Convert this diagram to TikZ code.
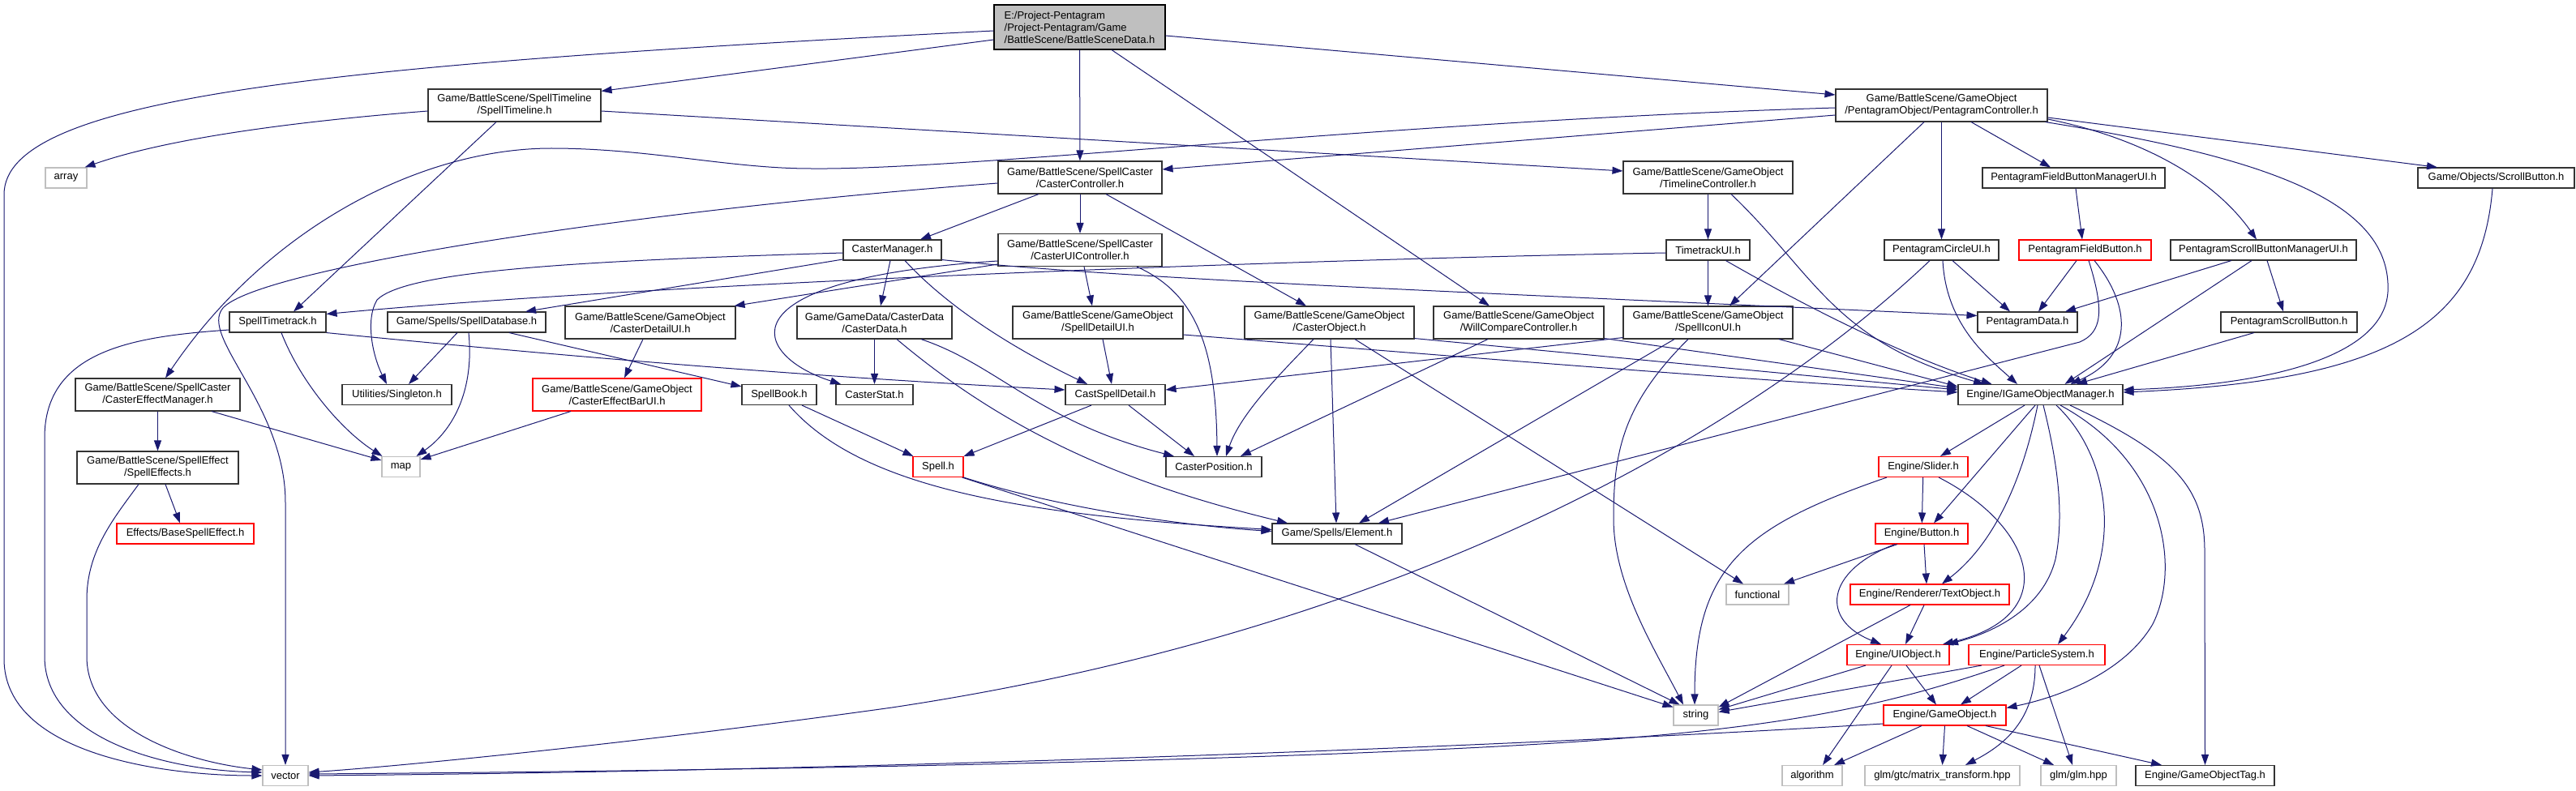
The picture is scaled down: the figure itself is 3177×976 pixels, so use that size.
\documentclass[tikz,border=0pt]{standalone}
\usepackage{fontspec}
\setmainfont{Liberation Sans}
\usetikzlibrary{arrows.meta,calc}
\definecolor{edgeblue}{HTML}{191970}
\definecolor{greyx}{HTML}{BFBFBF}
\newcommand\dgfont{\fontsize{13}{15}\selectfont}
\tikzset{
 nd/.style={draw=black!80, line width=1.1pt, fill=white, inner sep=0pt, align=center, font=\dgfont, minimum height=25pt},
 two/.style={minimum height=40pt},
 rd/.style={nd, draw=red},
 gx/.style={nd, draw=greyx},
 dep/.style={draw=edgeblue, line width=1pt, -{Triangle[length=13pt,width=9pt]}},
}
\begin{document}
\begin{tikzpicture}[x=1pt,y=-1pt]
\useasboundingbox (0,0) rectangle (3177,976);
% row 1-4
\node[nd, fill=greyx, draw=black, minimum width=211pt, minimum height=55pt, align=left] (root) at (1331.5,33.5) {E:/Project-Pentagram\\/Project-Pentagram/Game\\/BattleScene/BattleSceneData.h};
\node[nd,two,minimum width=213pt] (stl) at (634.5,130) {Game/BattleScene/SpellTimeline\\/SpellTimeline.h};
\node[nd,two,minimum width=261pt] (pc) at (2394.5,130) {Game/BattleScene/GameObject\\/PentagramObject/PentagramController.h};
\node[gx,minimum width=51pt] (arr) at (81.5,219.5) {array};
\node[nd,two,minimum width=202pt] (cc) at (1332,219) {Game/BattleScene/SpellCaster\\/CasterController.h};
\node[nd,two,minimum width=209pt] (tlc) at (2106.5,219) {Game/BattleScene/GameObject\\/TimelineController.h};
\node[nd,minimum width=225pt] (pfbm) at (2557.5,219.5) {PentagramFieldButtonManagerUI.h};
\node[nd,minimum width=193pt] (sb) at (3078.5,219.5) {Game/Objects/ScrollButton.h};
\node[nd,minimum width=121pt] (cm) at (1100.5,308.5) {CasterManager.h};
\node[nd,two,minimum width=202pt] (cuic) at (1332,308.5) {Game/BattleScene/SpellCaster\\/CasterUIController.h};
\node[nd,minimum width=103pt] (ttui) at (2106.5,308.5) {TimetrackUI.h};
\node[nd,minimum width=141pt] (pcui) at (2394.5,308.5) {PentagramCircleUI.h};
\node[rd,minimum width=163pt] (pfb) at (2571.5,308.5) {PentagramFieldButton.h};
\node[nd,minimum width=229pt] (psbm) at (2791.5,308.5) {PentagramScrollButtonManagerUI.h};
% row 5
\node[nd,minimum width=119pt] (stt) at (342.5,397.5) {SpellTimetrack.h};
\node[nd,minimum width=195pt] (sdb) at (575.5,397.5) {Game/Spells/SpellDatabase.h};
\node[nd,two,minimum width=210pt] (cdui) at (802,398) {Game/BattleScene/GameObject\\/CasterDetailUI.h};
\node[nd,two,minimum width=191pt] (cd) at (1078.5,398) {Game/GameData/CasterData\\/CasterData.h};
\node[nd,two,minimum width=210pt] (sdui) at (1354,398) {Game/BattleScene/GameObject\\/SpellDetailUI.h};
\node[nd,two,minimum width=209pt] (co) at (1639.5,398) {Game/BattleScene/GameObject\\/CasterObject.h};
\node[nd,two,minimum width=210pt] (wcc) at (1873,398) {Game/BattleScene/GameObject\\/WillCompareController.h};
\node[nd,two,minimum width=209pt] (siui) at (2106.5,398) {Game/BattleScene/GameObject\\/SpellIconUI.h};
\node[nd,minimum width=123pt] (pd) at (2500.5,397.5) {PentagramData.h};
\node[nd,minimum width=168pt] (psb) at (2823,397.5) {PentagramScrollButton.h};
% row 6
\node[nd,two,minimum width=203pt] (cem) at (194.5,487) {Game/BattleScene/SpellCaster\\/CasterEffectManager.h};
\node[nd,minimum width=135pt] (sgl) at (489.5,487) {Utilities/Singleton.h};
\node[rd,two,minimum width=208pt] (cebui) at (761,487) {Game/BattleScene/GameObject\\/CasterEffectBarUI.h};
\node[nd,minimum width=92pt] (sbk) at (961,487) {SpellBook.h};
\node[nd,minimum width=95pt] (cst) at (1078.5,487) {CasterStat.h};
\node[nd,minimum width=123pt] (csd) at (1375.5,487) {CastSpellDetail.h};
\node[nd,minimum width=203pt] (igom) at (2516.5,487) {Engine/IGameObjectManager.h};
% row 7
\node[nd,two,minimum width=199pt] (se) at (194.5,577) {Game/BattleScene/SpellEffect\\/SpellEffects.h};
\node[gx,minimum width=47pt] (map) at (494.5,576) {map};
\node[rd,minimum width=62pt] (spell) at (1157,576) {Spell.h};
\node[nd,minimum width=118pt] (cp) at (1497,576) {CasterPosition.h};
\node[rd,minimum width=110pt] (sld) at (2372,576) {Engine/Slider.h};
% row 8
\node[rd,minimum width=169pt] (bse) at (228.5,658.5) {Effects/BaseSpellEffect.h};
\node[nd,minimum width=160pt] (elem) at (1649,658.5) {Game/Spells/Element.h};
\node[rd,minimum width=114pt] (btn) at (2370,658.5) {Engine/Button.h};
% row 9-12
\node[gx,minimum width=77pt] (func) at (2167.5,733.5) {functional};
\node[rd,minimum width=196pt] (txt) at (2380,733.5) {Engine/Renderer/TextObject.h};
\node[rd,minimum width=126pt] (uio) at (2341,808) {Engine/UIObject.h};
\node[rd,minimum width=168pt] (ps) at (2512,808) {Engine/ParticleSystem.h};
\node[gx,minimum width=55pt] (str) at (2091.5,882.5) {string};
\node[rd,minimum width=151pt] (go) at (2398.5,882.5) {Engine/GameObject.h};
\node[gx,minimum width=56pt] (vec) at (352,957) {vector};
\node[gx,minimum width=74pt] (alg) at (2235,957) {algorithm};
\node[gx,minimum width=191pt] (mt) at (2395.5,957) {glm/gtc/matrix\_transform.hpp};
\node[gx,minimum width=93pt] (glm) at (2563.5,957) {glm/glm.hpp};
\node[nd,minimum width=171pt] (tag) at (2719.5,957) {Engine/GameObjectTag.h};

% root
\draw[dep] ($(root.west)+(0,15.5)$) -- ($(stl.north east)+(0,3)$);
\draw[dep] ($(root.west)+(0,4.5)$) .. controls (400,80) and (5,120) .. (5,240) -- (5,813) .. controls (5,930) and (200,957) .. (vec.west);
\draw[dep] (root) -- (cc);
\draw[dep] ($(root.east)+(0,10.5)$) -- ($(pc.west)+(0,-13)$);
\draw[dep] ($(root.south)+(39.5,0)$) -- ($(wcc.north)+(-36,0)$);
% SpellTimeline
\draw[dep] ($(stl.west)+(0,7)$) .. controls (300,155) and (180,180) .. ($(arr.north east)+(-3,0)$);
\draw[dep] ($(stl.south)+(-22.5,0)$) -- ($(stt.north)+(19.5,0)$);
\draw[dep] ($(stl.east)+(0,7)$) -- ($(tlc.west)+(0,-8)$);
% PentagramController
\draw[dep] ($(pc.west)+(0,12)$) -- ($(cc.east)+(0,-10)$);
\draw[dep] ($(pc.west)+(0,3)$) .. controls (1700,150) and (1200,210) .. (1000,208) .. controls (900,208) and (800,183) .. (680,183) .. controls (520,183) and (330,280) .. ($(cem.north)+(9.5,0)$);
\draw[dep] ($(pc.south)+(-21.5,0)$) -- ($(siui.north)+(26.5,0)$);
\draw[dep] (pc) -- (pcui);
\draw[dep] ($(pc.south)+(36.5,0)$) -- ($(pfbm.north)+(-28.5,0)$);
\draw[dep] ($(pc.east)+(0,15)$) -- ($(sb.north)+(-72.5,0)$);
\draw[dep] ($(pc.east)+(0,17)$) .. controls (2640,170) and (2730,220) .. ($(psbm.north)+(-8.5,0)$);
\draw[dep] ($(pc.south east)+(-3,0)$) .. controls (2800,195) and (2950,250) .. (2945,360) .. controls (2940,440) and (2800,475) .. ($(igom.east)+(0,-6)$);
\draw[dep] ($(sb.south)+(-4.5,0)$) .. controls (3060,400) and (2950,470) .. ($(igom.east)+(0,-3)$);
% CasterController
\draw[dep] ($(cc.south)+(-51,0)$) -- ($(cm.north)+(34.5,0)$);
\draw[dep] (cc) -- (cuic);
\draw[dep] ($(cc.south)+(32,0)$) -- ($(co.north)+(-28.5,0)$);
\draw[dep] ($(cc.west)+(0,7)$) .. controls (800,258) and (320,330) .. (275,380) .. controls (245,415) and (352,500) .. (352,620) -- (vec.north);
% CasterManager
\draw[dep] ($(cm.west)+(0,3.5)$) .. controls (700,322) and (500,335) .. (465,370) .. controls (450,395) and (460,440) .. ($(sgl.north)+(-12.5,0)$);
\draw[dep] ($(cm.west)+(0,11.5)$) -- ($(sdb.north)+(72.5,0)$);
\draw[dep] ($(cm.south)+(-2.5,0)$) -- ($(cd.north)+(7.5,0)$);
\draw[dep] ($(cm.south)+(15.5,0)$) .. controls (1170,380) and (1250,430) .. ($(csd.north)+(-34.5,0)$);
\draw[dep] ($(cm.south east)+(0,-1)$) .. controls (1400,345) and (1800,360) .. ($(pd.west)+(0,-8)$);
% CasterUIController
\draw[dep] ($(cuic.west)+(0,17.5)$) -- ($(cdui.north east)+(-2,0)$);
\draw[dep] ($(cuic.west)+(0,13.5)$) .. controls (880,345) and (930,440) .. ($(cst.north)+(-41.5,0)$);
\draw[dep] ($(cuic.south)+(5,0)$) -- ($(sdui.north)+(-7,0)$);
\draw[dep] ($(cuic.south)+(70,0)$) .. controls (1470,360) and (1500,420) .. ($(cp.north)+(4,0)$);
% TimelineController, TimetrackUI
\draw[dep] (tlc) -- (ttui);
\draw[dep] ($(tlc.south)+(28.5,0)$) .. controls (2240,340) and (2260,420) .. ($(igom.north)+(-69.5,0)$);
\draw[dep] ($(ttui.west)+(0,3.5)$) .. controls (1600,320) and (800,350) .. ($(stt.east)+(0,-10)$);
\draw[dep] (ttui) -- (siui);
\draw[dep] ($(ttui.south)+(22,0)$) .. controls (2230,380) and (2350,440) .. ($(igom.north)+(-60,0)$);
% PentagramCircleUI
\draw[dep] ($(pcui.south)+(13.5,0)$) -- ($(pd.north)+(-21.5,0)$);
\draw[dep] ($(pcui.south)+(1.5,0)$) .. controls (2400,400) and (2450,440) .. ($(igom.north)+(-28.5,0)$);
\draw[dep] ($(pcui.south)+(-14.5,0)$) .. controls (2150,540) and (1720,780) .. (1100,873) .. controls (800,915) and (500,945) .. ($(vec.east)+(0,-4)$);
% PentagramField*
\draw[dep] ($(pfbm.south)+(2.5,0)$) -- ($(pfb.north)+(-3.5,0)$);
\draw[dep] ($(pfb.south)+(-10.5,0)$) -- ($(pd.north)+(13.5,0)$);
\draw[dep] ($(pfb.south)+(11.5,0)$) .. controls (2630,380) and (2630,440) .. ($(igom.north)+(37,0)$);
\draw[dep] ($(pfb.south)+(4.5,0)$) .. controls (2596,385) and (2592,410) .. (2565,422) -- ($(elem.north)+(51,0)$);
% PentagramScroll*
\draw[dep] ($(psbm.south)+(-39.5,0)$) -- ($(pd.north)+(46.5,0)$);
\draw[dep] ($(psbm.south)+(-14.5,0)$) -- ($(igom.north)+(30,0)$);
\draw[dep] ($(psbm.south)+(4.5,0)$) -- ($(psb.north)+(-7,0)$);
\draw[dep] ($(psb.south)+(-43,0)$) -- ($(igom.north)+(44.5,0)$);
% SpellTimetrack
\draw[dep] ($(stt.south)+(4.5,0)$) .. controls (370,470) and (420,530) .. ($(map.north west)+(1,0)$);
\draw[dep] ($(stt.west)+(0,9.5)$) .. controls (170,415) and (55,430) .. (55,540) -- (55,810) .. controls (55,910) and (200,950) .. ($(vec.west)+(0,-4)$);
\draw[dep] (stt.south east) .. controls (700,440) and (1000,465) .. ($(csd.west)+(0,-6)$);
% SpellDatabase
\draw[dep] ($(sdb.south)+(-11.5,0)$) -- ($(sgl.north)+(14.5,0)$);
\draw[dep] ($(sdb.south)+(2.5,0)$) .. controls (585,480) and (560,530) .. ($(map.north)+(19,0)$);
\draw[dep] ($(sdb.south)+(52.5,0)$) -- ($(sbk.north west)+(0,3)$);
% CasterDetailUI, CasterEffectBarUI, CasterEffectManager, SpellEffects
\draw[dep] ($(cdui.south)+(-9,0)$) -- ($(cebui.north)+(9,0)$);
\draw[dep] ($(cebui.south)+(-57,0)$) -- ($(map.east)+(0,-9)$);
\draw[dep] (cem) -- (se);
\draw[dep] ($(cem.south)+(66.5,0)$) -- ($(map.west)+(0,-8)$);
\draw[dep] ($(se.south)+(9.5,0)$) -- ($(bse.north)+(-6.5,0)$);
\draw[dep] ($(se.south)+(-23.5,0)$) .. controls (140,640) and (107,680) .. (107,740) -- (107,810) .. controls (107,900) and (230,940) .. ($(vec.west)+(0,-7)$);
% SpellBook, CasterData
\draw[dep] ($(sbk.south)+(28,0)$) -- ($(spell.north west)+(1,0)$);
\draw[dep] ($(sbk.south)+(12,0)$) .. controls (1060,600) and (1250,635) .. ($(elem.west)+(0,-5)$);
\draw[dep] (cd) -- (cst);
\draw[dep] ($(cd.south)+(57.5,0)$) .. controls (1230,450) and (1280,520) .. ($(cp.north)+(-49,0)$);
\draw[dep] ($(cd.south)+(27.5,0)$) .. controls (1250,540) and (1400,600) .. ($(elem.north)+(-61,0)$);
% SpellDetailUI
\draw[dep] ($(sdui.south)+(6,0)$) -- ($(csd.north)+(-4.5,0)$);
\draw[dep] ($(sdui.east)+(0,15)$) .. controls (1800,440) and (2100,465) .. ($(igom.west)+(0,-3)$);
% CasterObject
\draw[dep] ($(co.south)+(-19.5,0)$) .. controls (1580,460) and (1530,510) .. ($(cp.north)+(15,0)$);
\draw[dep] ($(co.south)+(1.5,0)$) -- ($(elem.north)+(-1,0)$);
\draw[dep] ($(co.south)+(31.5,0)$) -- ($(func.north)+(-17.5,0)$);
\draw[dep] ($(co.south east)+(0,-1)$) -- ($(igom.west)+(0,-6)$);
% WillCompareController
\draw[dep] ($(wcc.south)+(-38,0)$) -- ($(cp.north)+(33,0)$);
\draw[dep] ($(wcc.south east)+(0,-1)$) -- ($(igom.west)+(0,-8)$);
% SpellIconUI
\draw[dep] ($(siui.south west)+(0,-2)$) -- ($(csd.east)+(0,-6)$);
\draw[dep] ($(siui.south)+(-41.5,0)$) -- ($(elem.north)+(27,0)$);
\draw[dep] ($(siui.south)+(-24.5,0)$) .. controls (2000,500) and (1990,560) .. (1990,640) .. controls (1990,720) and (2040,800) .. ($(str.north)+(-15.5,0)$);
\draw[dep] ($(siui.south)+(87.5,0)$) -- ($(igom.west)+(0,-10)$);
% CastSpellDetail, Spell, Element
\draw[dep] ($(csd.south)+(-29.5,0)$) -- (spell.north east);
\draw[dep] ($(csd.south)+(16.5,0)$) -- ($(cp.north)+(-24,0)$);
\draw[dep] (spell.south east) .. controls (1300,625) and (1450,648) .. ($(elem.west)+(0,-3)$);
\draw[dep] ($(spell.south east)+(-2,0)$) -- ($(str.west)+(0,-10)$);
\draw[dep] ($(elem.south)+(22,0)$) -- ($(str.north)+(-20,0)$);
% IGameObjectManager
\draw[dep] ($(igom.south)+(-19.5,0)$) -- ($(sld.north)+(21,0)$);
\draw[dep] ($(igom.south)+(-6.5,0)$) -- ($(btn.north)+(15,0)$);
\draw[dep] ($(igom.south)+(-3.5,0)$) .. controls (2495,590) and (2460,670) .. ($(txt.north)+(15,0)$);
\draw[dep] ($(igom.south)+(3.5,0)$) .. controls (2540,580) and (2545,640) .. (2535,690) .. controls (2520,750) and (2460,780) .. ($(uio.north)+(61,0)$);
\draw[dep] ($(igom.south)+(19.5,0)$) .. controls (2600,560) and (2625,680) .. ($(ps.north)+(26,0)$);
\draw[dep] ($(igom.south)+(24.5,0)$) .. controls (2670,570) and (2690,700) .. (2655,770) .. controls (2620,830) and (2540,860) .. ($(go.east)+(0,-9)$);
\draw[dep] ($(igom.south)+(36.5,0)$) .. controls (2680,560) and (2719,600) .. (2719,680) -- (tag.north);
% Slider, Button, TextObject
\draw[dep] (sld) -- (btn);
\draw[dep] ($(sld.south)+(19,0)$) .. controls (2510,650) and (2545,760) .. ($(uio.north)+(55,0)$);
\draw[dep] ($(sld.south)+(-45,0)$) .. controls (2150,650) and (2090,700) .. ($(str.north)+(-1.5,0)$);
\draw[dep] ($(btn.south)+(-30,0)$) -- ($(func.north)+(32.5,0)$);
\draw[dep] ($(btn.south)+(3,0)$) -- ($(txt.north)+(-4,0)$);
\draw[dep] ($(btn.south)+(-33,0)$) .. controls (2250,705) and (2245,765) .. ($(uio.north)+(-21,0)$);
\draw[dep] ($(txt.south)+(-7,0)$) -- ($(uio.north)+(9,0)$);
\draw[dep] ($(txt.south)+(-24,0)$) -- ($(str.east)+(0,-10)$);
% UIObject
\draw[dep] ($(uio.south)+(-40,0)$) -- ($(str.east)+(0,-7)$);
\draw[dep] ($(uio.south)+(-8,0)$) -- ($(alg.north)+(13,0)$);
\draw[dep] ($(uio.south)+(10,0)$) -- ($(go.north)+(-10.5,0)$);
% ParticleSystem
\draw[dep] ($(ps.south)+(-68,0)$) -- ($(str.east)+(0,-4)$);
\draw[dep] ($(ps.south)+(-40,0)$) .. controls (2330,870) and (2200,900) .. (1900,918) .. controls (1500,942) and (800,952) .. ($(vec.east)+(0,-2)$);
\draw[dep] ($(ps.south)+(-19,0)$) -- ($(go.north)+(19.5,0)$);
\draw[dep] ($(ps.south)+(-2,0)$) .. controls (2510,890) and (2470,920) .. ($(mt.north)+(28.5,0)$);
\draw[dep] ($(ps.south)+(3,0)$) -- ($(glm.north)+(-7.5,0)$);
% GameObject
\draw[dep] ($(go.west)+(0,10.5)$) .. controls (1800,925) and (1000,952) .. (vec.east);
\draw[dep] ($(go.south)+(-28.5,0)$) -- ($(alg.north)+(27,0)$);
\draw[dep] (go.south) -- (mt.north);
\draw[dep] ($(go.south)+(27.5,0)$) -- ($(glm.north)+(-30.5,0)$);
\draw[dep] ($(go.south)+(50.5,0)$) -- ($(tag.north)+(-53.5,0)$);
\end{tikzpicture}
\end{document}
